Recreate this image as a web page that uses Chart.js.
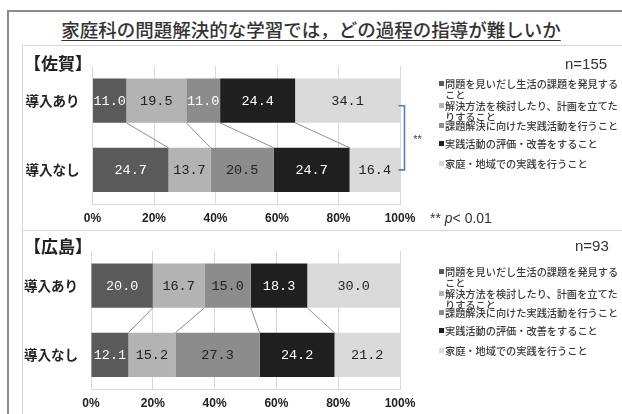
<!DOCTYPE html>
<html lang="ja">
<head>
<meta charset="utf-8">
<title>家庭科の問題解決的な学習では，どの過程の指導が難しいか</title>
<script src="https://cdn.jsdelivr.net/npm/chart.js@4.4.1/dist/chart.umd.min.js"></script>
<style>
  html, body { margin: 0; padding: 0; background: #fff; }
  body {
    width: 622px; height: 414px; overflow: hidden; position: relative;
    font-family: "Noto Sans CJK JP", sans-serif; color: #333;
  }
  .frame {
    position: absolute; left: 7px; top: 10px; width: 700px; height: 500px;
    border-left: 2px solid #8c8c8c; border-top: 2px solid #8c8c8c;
  }
  .panel { position: absolute; left: 22px; width: 700px; border: 1px solid #d6d6d6; }
  #boxSaga { top: 45px; height: 184px; }
  #boxHiroshima { top: 230px; height: 300px; }
  .title {
    position: absolute; left: 0; top: 20px; width: 622px; text-align: center;
    font-size: 18.5px; line-height: 1; font-weight: 500; color: #333;
    text-decoration: underline; text-underline-offset: 3px; text-decoration-thickness: 1px;
  }
  canvas { position: absolute; left: 0; }
  #sagaChart { top: 45px; }
  #hiroshimaChart { top: 230px; }
  .pref { position: absolute; left: 24px; font-size: 17px; line-height: 1; font-weight: 700; color: #222; }
  .nval { position: absolute; font-family: "Liberation Sans", sans-serif; font-size: 15px; line-height: 1; color: #333; }
  .sig { position: absolute; left: 430px; top: 211px; font-family: "Liberation Sans", sans-serif; font-size: 14px; line-height: 1; color: #333; }
  .sig i { font-style: italic; }
  .legend-item {
    position: absolute; left: 445px; width: 176px;
    font-size: 10.2px; line-height: 11px; font-weight: 500; color: #3a3a3a;
  }
  .legend-item .sw { position: absolute; left: -6px; top: 3px; width: 5px; height: 5px; }
</style>
</head>
<body>
<div class="frame"></div>
<div class="panel" id="boxSaga"></div>
<div class="panel" id="boxHiroshima"></div>

<div class="title">家庭科の問題解決的な学習では，どの過程の指導が難しいか</div>

<canvas id="sagaChart" width="622" height="185"></canvas>
<canvas id="hiroshimaChart" width="622" height="185"></canvas>

<div class="pref" style="top:54px">【佐賀】</div>
<div class="nval" style="left:565px; top:56px">n=155</div>
<div class="sig">** <i>p</i>&lt; 0.01</div>

<div class="pref" style="top:237px">【広島】</div>
<div class="nval" style="left:575px; top:238px">n=93</div>

<script>
// ===== データ =====
const groups = ['導入あり', '導入なし'];
const processLabels = [
  '問題を見いだし生活の課題を発見すること',
  '解決方法を検討したり、計画を立てたりすること',
  '課題解決に向けた実践活動を行うこと',
  '実践活動の評価・改善をすること',
  '家庭・地域での実践を行うこと',
];
const xTicks = [0, 20, 40, 60, 80, 100];

// 佐賀 (n=155)
const sagaWith    = [11.0, 19.5, 11.0, 24.4, 34.1];
const sagaWithout = [24.7, 13.7, 20.5, 24.7, 16.4];
// 広島 (n=93)
const hiroWith    = [20.0, 16.7, 15.0, 18.3, 30.0];
const hiroWithout = [12.1, 15.2, 27.3, 24.2, 21.2];

// ===== 見た目 =====
const seriesColors = ['#5a5a5a', '#b3b3b3', '#8c8c8c', '#1f1f1f', '#dadada'];
const sagaLabelColors = [
  ['#fff', '#fff'], ['#222', '#222'], ['#fff', '#222'], ['#fff', '#fff'], ['#222', '#222'],
];
const hiroLabelColors = [
  ['#fff', '#fff'], ['#222', '#222'], ['#222', '#222'], ['#fff', '#fff'], ['#222', '#222'],
];

// ===== 系列線（区切り同士を結ぶ線） =====
const seriesLines = {
  id: 'seriesLines',
  beforeDatasetsDraw(chart) {
    const { ctx } = chart;
    const x = chart.scales.x;
    const n = chart.data.datasets.length;
    let cumTop = 0, cumBot = 0;
    ctx.save();
    ctx.strokeStyle = '#8f8f8f';
    ctx.lineWidth = 1;
    for (let i = 0; i < n - 1; i++) {
      cumTop += chart.data.datasets[i].data[0];
      cumBot += chart.data.datasets[i].data[1];
      const top = chart.getDatasetMeta(i).data[0];
      const bot = chart.getDatasetMeta(i).data[1];
      ctx.beginPath();
      ctx.moveTo(x.getPixelForValue(cumTop), top.y + top.height / 2);
      ctx.lineTo(x.getPixelForValue(cumBot), bot.y - bot.height / 2);
      ctx.stroke();
    }
    ctx.restore();
  }
};

// ===== 数値ラベル =====
const valueLabels = {
  id: 'valueLabels',
  afterDatasetsDraw(chart) {
    const { ctx } = chart;
    ctx.save();
    ctx.font = '13.5px "Liberation Mono", monospace';
    ctx.textAlign = 'center';
    ctx.textBaseline = 'middle';
    chart.data.datasets.forEach((ds, i) => {
      chart.getDatasetMeta(i).data.forEach((bar, j) => {
        ctx.fillStyle = ds.labelColors[j];
        ctx.fillText(ds.data[j].toFixed(1), (bar.x + bar.base) / 2, bar.y + 1);
      });
    });
    ctx.restore();
  }
};

// ===== 有意差の括弧 =====
const sigBracket = {
  id: 'sigBracket',
  afterDraw(chart) {
    const { ctx, chartArea } = chart;
    const top = chart.getDatasetMeta(0).data[0];
    const bot = chart.getDatasetMeta(0).data[1];
    const bx = chartArea.right + 4.5;
    const y0 = top.y + 5, y1 = bot.y;
    ctx.save();
    ctx.strokeStyle = '#4f7fbf';
    ctx.lineWidth = 1.6;
    ctx.beginPath();
    ctx.moveTo(bx - 6, y0);
    ctx.lineTo(bx, y0);
    ctx.lineTo(bx, y1);
    ctx.lineTo(bx - 6, y1);
    ctx.stroke();
    ctx.fillStyle = '#444';
    ctx.font = '11px "Liberation Sans", sans-serif';
    ctx.textAlign = 'center';
    ctx.textBaseline = 'middle';
    ctx.fillText('**', bx + 13, (y0 + y1) / 2 + 2);
    ctx.restore();
  }
};

function makeChart(id, withVals, withoutVals, labelColors, leftEdge, extraPlugins) {
  const datasets = processLabels.map((label, i) => ({
    label,
    data: [withVals[i], withoutVals[i]],
    backgroundColor: seriesColors[i],
    borderWidth: 0,
    labelColors: labelColors[i],
    barPercentage: 0.64,
    categoryPercentage: 1,
  }));

  return new Chart(document.getElementById(id), {
    type: 'bar',
    data: { labels: groups, datasets },
    plugins: [seriesLines, valueLabels, ...extraPlugins],
    options: {
      indexAxis: 'y',
      responsive: false,
      animation: false,
      layout: { padding: { left: 0, right: 222, top: 9.5, bottom: 0 } },
      plugins: { legend: { display: false }, tooltip: { enabled: false } },
      scales: {
        x: {
          stacked: true, min: 0, max: 100,
          afterBuildTicks: s => { s.ticks = xTicks.map(v => ({ value: v })); },
          afterFit: s => { s.height = 25.5; },
          grid: { color: '#d9d9d9', drawTicks: false },
          border: { display: true, color: '#d9d9d9' },
          ticks: {
            padding: 7, color: '#222',
            font: { family: '"Liberation Sans Narrow", "Liberation Sans", sans-serif', size: 12, weight: 'bold' },
            callback: v => v + '%',
          },
        },
        y: {
          stacked: true,
          afterFit: s => { s.width = leftEdge; },
          grid: { display: false, drawTicks: false },
          border: { display: false },
          ticks: {
            padding: 13, color: '#222',
            font: { family: '"Noto Sans CJK JP", sans-serif', size: 13.5, weight: 'bold' },
          },
        },
      },
    },
  });
}

// ===== 凡例 =====
function buildLegend(centers) {
  processLabels.forEach((label, i) => {
    const item = document.createElement('div');
    item.className = 'legend-item';
    item.style.top = (centers[i] - 5.5) + 'px';
    item.innerHTML = `<span class="sw" style="background:${seriesColors[i]}"></span>${label}`;
    document.body.appendChild(item);
  });
}

makeChart('sagaChart', sagaWith, sagaWithout, sagaLabelColors, 92.5, [sigBracket]);
makeChart('hiroshimaChart', hiroWith, hiroWithout, hiroLabelColors, 91, []);
buildLegend([83.3, 105, 125.7, 143.3, 163.3]);
buildLegend([271.7, 293.3, 312.7, 330, 350]);
</script>
</body>
</html>
